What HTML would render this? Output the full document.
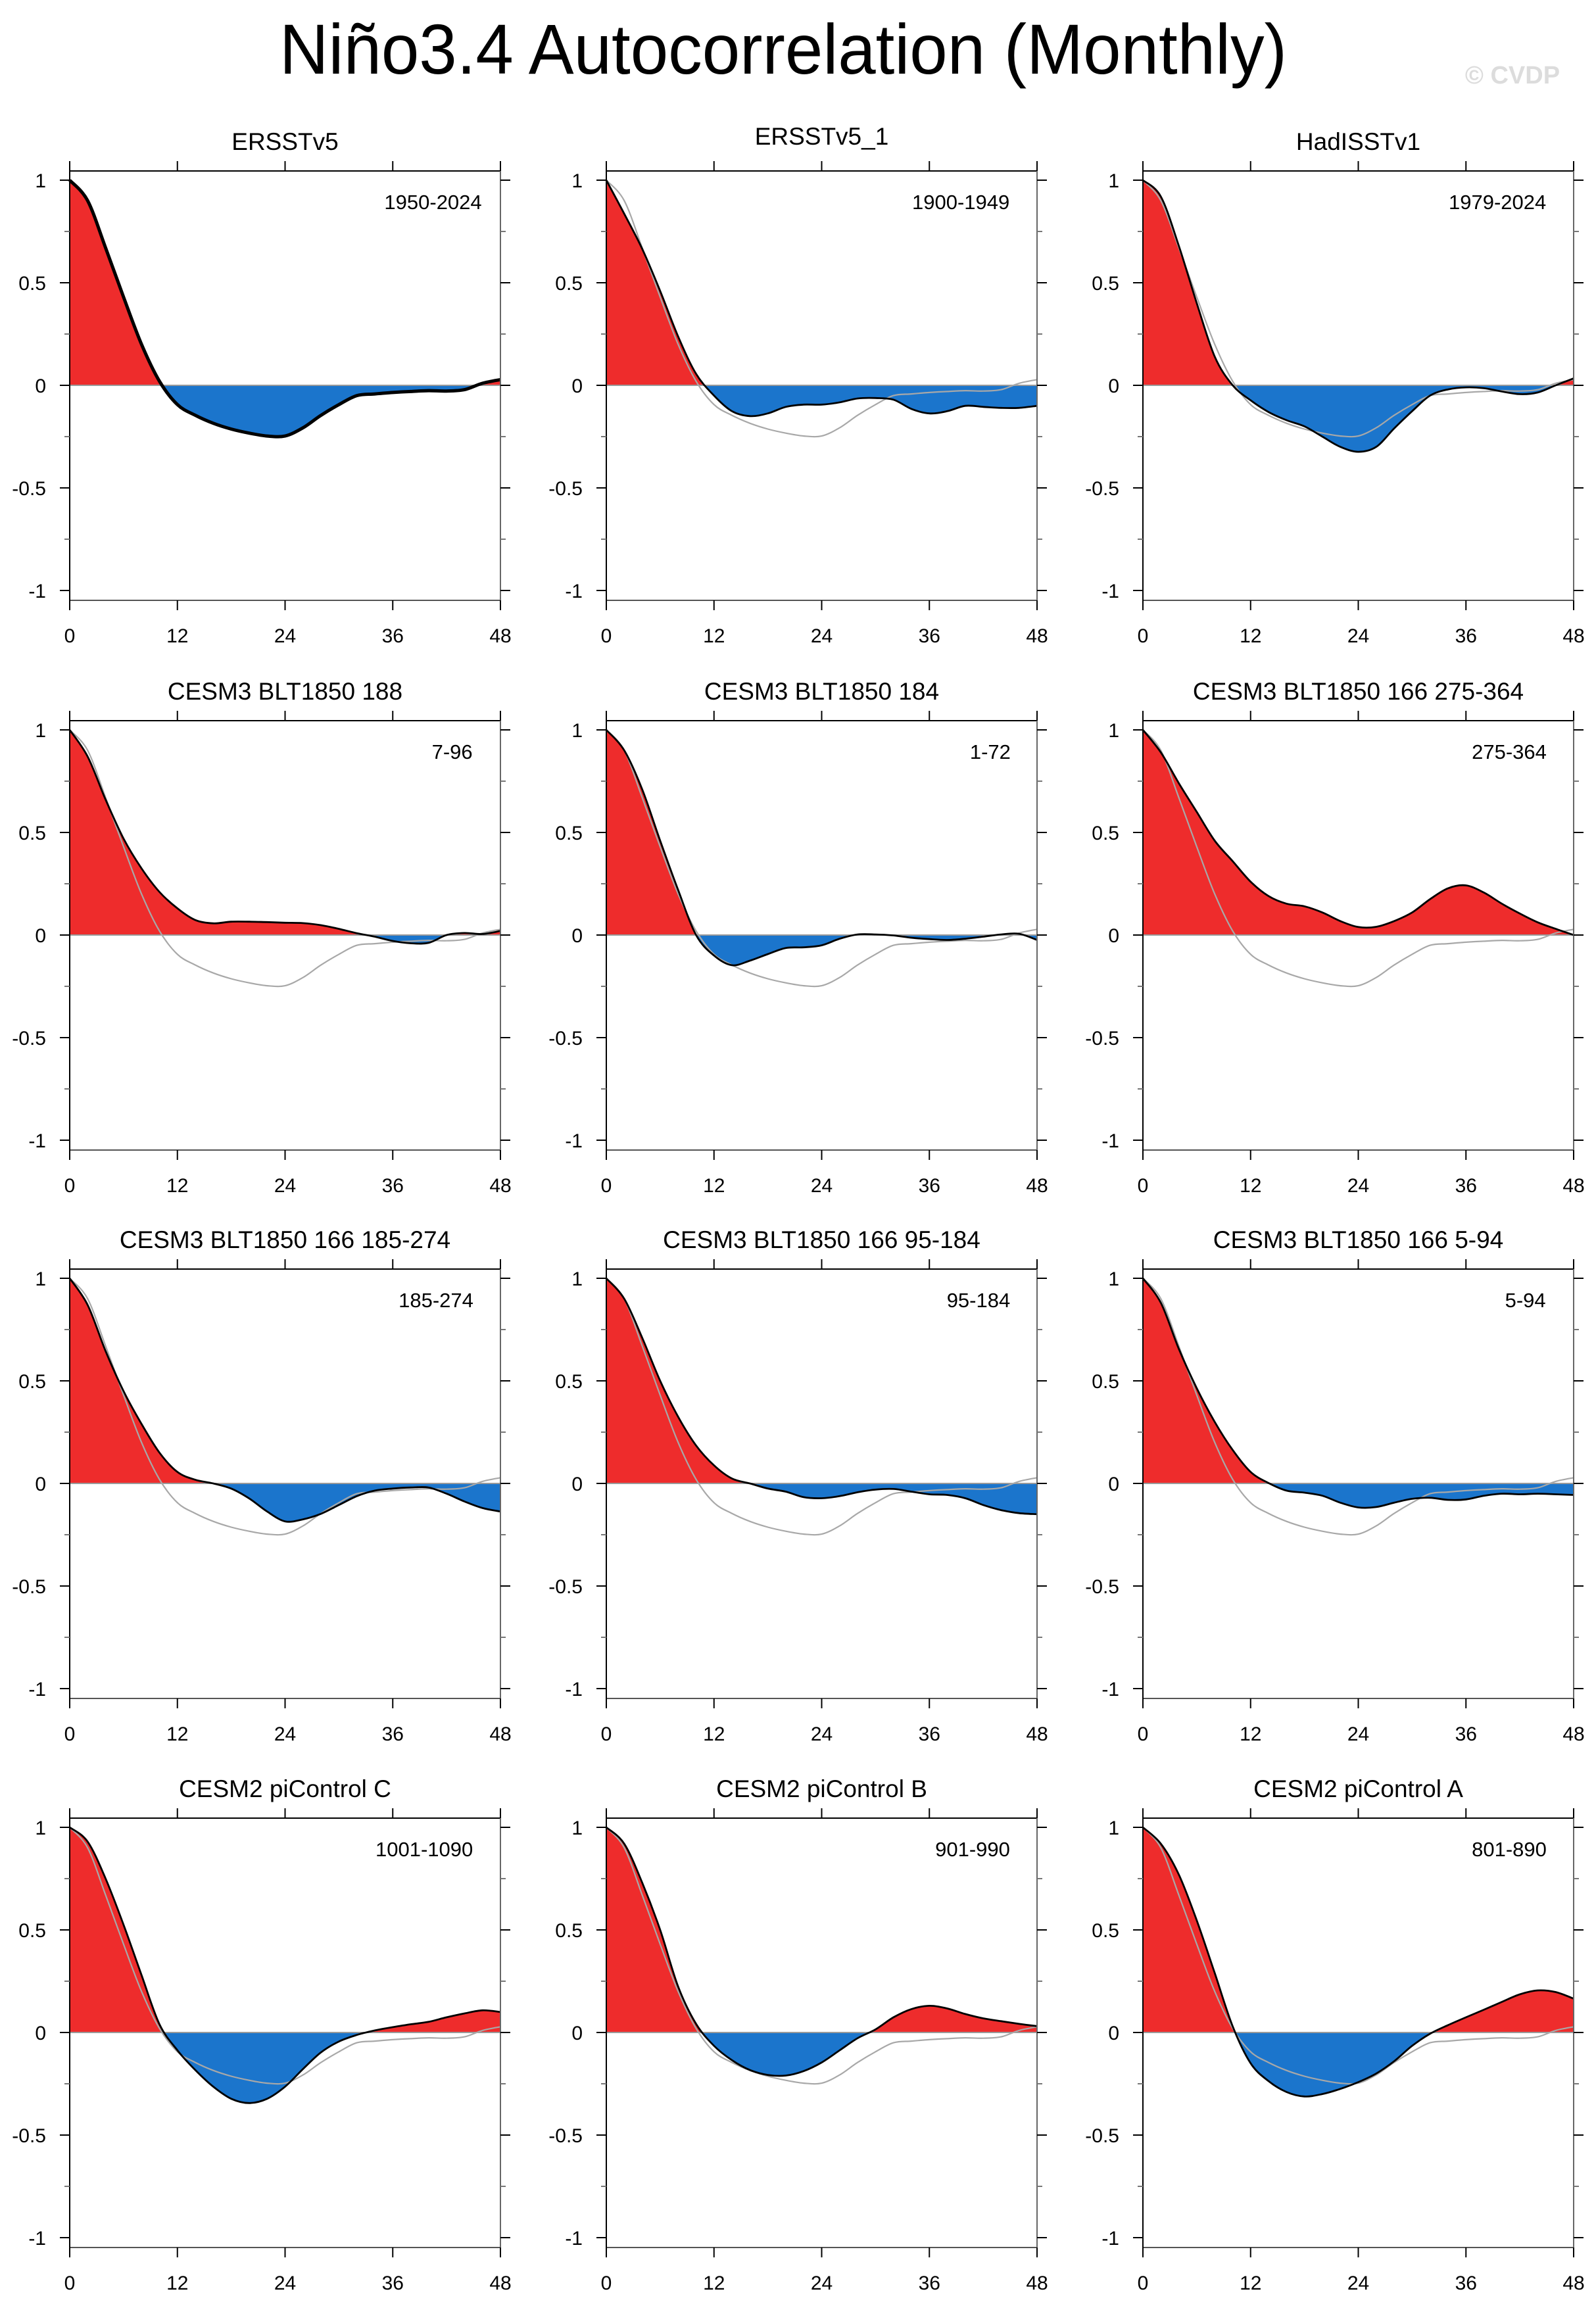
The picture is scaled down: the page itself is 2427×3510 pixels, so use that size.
<!DOCTYPE html>
<html>
<head>
<meta charset="utf-8">
<style>
  html,body{margin:0;padding:0;background:#fff;}
  svg{display:block;font-family:"Liberation Sans",Arial,sans-serif;}
</style>
</head>
<body>
<svg id="fig" width="2427" height="3510" viewBox="0 0 2427 3510" xmlns="http://www.w3.org/2000/svg">
  <text x="425" y="112" font-size="108" textLength="1532" lengthAdjust="spacingAndGlyphs" fill="#000">Niño3.4 Autocorrelation (Monthly)</text>
  <text x="2300" y="127" font-size="38" font-weight="bold" text-anchor="middle" fill="#dcdcdc">© CVDP</text>
</svg>
<script>
const lags = [0,2,4,6,8,10,12,14,16,18,20,22,24,26,28,30,32,34,36,38,40,42,44,46,48];
const xTicks = [0,12,24,36,48];
const yTicks = [1,0.5,0,-0.5,-1];
const yMinorTicks = [0.75,0.25,-0.25,-0.75];
const yTickLabels = ["1","0.5","0","-0.5","-1"];
const titles = ["ERSSTv5","ERSSTv5_1","HadISSTv1","CESM3 BLT1850 188","CESM3 BLT1850 184","CESM3 BLT1850 166 275-364","CESM3 BLT1850 166 185-274","CESM3 BLT1850 166 95-184","CESM3 BLT1850 166 5-94","CESM2 piControl C","CESM2 piControl B","CESM2 piControl A"];
const ranges = ["1950-2024","1900-1949","1979-2024","7-96","1-72","275-364","185-274","95-184","5-94","1001-1090","901-990","801-890"];
const obsValues = [1,0.90,0.67,0.43,0.20,0.02,-0.094,-0.146,-0.185,-0.213,-0.233,-0.247,-0.247,-0.207,-0.146,-0.094,-0.05,-0.042,-0.035,-0.03,-0.026,-0.028,-0.021,0.01,0.028];
const s2 = [1,0.836,0.665,0.46,0.238,0.056,-0.05,-0.126,-0.15,-0.137,-0.105,-0.094,-0.094,-0.083,-0.064,-0.062,-0.07,-0.115,-0.137,-0.126,-0.1,-0.105,-0.11,-0.11,-0.1];
const s3 = [1,0.92,0.68,0.40,0.14,0.0,-0.073,-0.13,-0.17,-0.2,-0.25,-0.30,-0.324,-0.3,-0.21,-0.126,-0.05,-0.02,-0.01,-0.014,-0.03,-0.043,-0.035,0.0,0.034];
const s4 = [1,0.87,0.66,0.47,0.325,0.21,0.13,0.073,0.057,0.065,0.065,0.063,0.06,0.058,0.048,0.03,0.009,-0.008,-0.029,-0.04,-0.038,0.0,0.01,0.005,0.02];
const s5 = [1,0.90,0.71,0.46,0.22,0.0,-0.10,-0.147,-0.125,-0.093,-0.063,-0.06,-0.05,-0.018,0.003,0.003,-0.002,-0.013,-0.02,-0.024,-0.018,-0.008,0.003,0.006,-0.024];
const s6 = [1,0.89,0.74,0.60,0.46,0.36,0.26,0.19,0.153,0.14,0.11,0.068,0.039,0.04,0.068,0.11,0.175,0.228,0.242,0.207,0.153,0.105,0.062,0.03,0.0];
const s7 = [1,0.87,0.645,0.45,0.29,0.15,0.056,0.018,0.0,-0.025,-0.073,-0.137,-0.185,-0.175,-0.148,-0.105,-0.062,-0.035,-0.025,-0.02,-0.02,-0.05,-0.088,-0.12,-0.137];
const s8 = [1,0.90,0.71,0.50,0.325,0.185,0.088,0.024,0.0,-0.025,-0.04,-0.067,-0.072,-0.062,-0.043,-0.03,-0.027,-0.04,-0.053,-0.056,-0.072,-0.105,-0.13,-0.145,-0.15];
const s9 = [1,0.88,0.656,0.464,0.30,0.163,0.056,0.002,-0.035,-0.045,-0.06,-0.094,-0.117,-0.115,-0.094,-0.075,-0.07,-0.08,-0.078,-0.06,-0.05,-0.053,-0.05,-0.053,-0.056];
const s10 = [1,0.93,0.75,0.525,0.28,0.04,-0.087,-0.183,-0.264,-0.323,-0.344,-0.323,-0.264,-0.178,-0.097,-0.044,-0.012,0.01,0.026,0.04,0.052,0.074,0.093,0.108,0.10];
const s11 = [1,0.92,0.73,0.50,0.224,0.042,-0.065,-0.135,-0.183,-0.207,-0.21,-0.188,-0.146,-0.087,-0.028,0.015,0.074,0.114,0.13,0.117,0.09,0.069,0.055,0.042,0.031];
const s12 = [1,0.92,0.77,0.546,0.29,0.03,-0.15,-0.237,-0.29,-0.312,-0.30,-0.275,-0.242,-0.2,-0.14,-0.065,-0.006,0.036,0.074,0.111,0.149,0.186,0.205,0.197,0.165];
const series = [obsValues,s2,s3,s4,s5,s6,s7,s8,s9,s10,s11,s12];
const rangeOffsets = [247,241,241,260,261,249,249,253,260,241,249,249];

const NS = "http://www.w3.org/2000/svg";
const svg = document.getElementById('fig');
const colX = [106,922,1738];
const rowY = [274,1110,1944,2779];
const W = 655, UNIT = 312;

function mk(tag, attrs, parent){
  const e = document.createElementNS(NS, tag);
  for (const k in attrs) e.setAttribute(k, attrs[k]);
  parent.appendChild(e);
  return e;
}
function smoothPath(pts){
  let d = "M" + pts[0][0].toFixed(1) + "," + pts[0][1].toFixed(1);
  for (let i = 0; i < pts.length - 1; i++){
    const p0 = pts[Math.max(0,i-1)], p1 = pts[i], p2 = pts[i+1], p3 = pts[Math.min(pts.length-1,i+2)];
    const c1x = p1[0] + (p2[0]-p0[0])/6, c1y = p1[1] + (p2[1]-p0[1])/6;
    const c2x = p2[0] - (p3[0]-p1[0])/6, c2y = p2[1] - (p3[1]-p1[1])/6;
    d += " C" + c1x.toFixed(1)+","+c1y.toFixed(1)+" "+c2x.toFixed(1)+","+c2y.toFixed(1)+" "+p2[0].toFixed(1)+","+p2[1].toFixed(1);
  }
  return d;
}

for (let p = 0; p < 12; p++){
  const x0 = colX[p % 3], y1 = rowY[Math.floor(p / 3)];
  const xs = v => x0 + v / 48 * W;
  const ys = v => y1 + (1 - v) * UNIT;
  const yZero = ys(0), top = y1 - 14, bot = ys(-1) + 15;

  const g = mk('g', {}, svg);
  
  

  const t = mk('text', {x: x0 + W/2, y: y1 - 46 - (p === 1 ? 8 : 0), 'font-size': 37, 'text-anchor': 'middle', fill: '#000'}, g);
  t.textContent = titles[p];
  
  

  const cid = 'c' + p;
  const defs = mk('defs', {}, g);
  const cpA = mk('clipPath', {id: cid + 'a'}, defs);
  mk('rect', {x: x0, y: top, width: W, height: yZero - top}, cpA);
  const cpB = mk('clipPath', {id: cid + 'b'}, defs);
  mk('rect', {x: x0, y: yZero, width: W, height: bot - yZero}, cpB);

  const pts = lags.map((l, i) => [xs(l), ys(series[p][i])]);
  const curve = smoothPath(pts);
  const area = curve + " L" + xs(48) + "," + yZero + " L" + xs(0) + "," + yZero + " Z";
  const pos = mk('path', {d: area, fill: '#ee2c2c', 'clip-path': 'url(#' + cid + 'a)'}, g);
  
  
  const neg = mk('path', {d: area, fill: '#1b75cc', 'clip-path': 'url(#' + cid + 'b)'}, g);
  
  

  const zl = mk('line', {x1: x0, x2: x0 + W, y1: yZero, y2: yZero, stroke: '#9a9a9a', 'stroke-width': 2}, g);
  
  

  if (p > 0){
    const opts = lags.map((l, i) => [xs(l), ys(obsValues[i])]);
    const ol = mk('path', {d: smoothPath(opts), fill: 'none', stroke: '#a8a8a8', 'stroke-width': 2.2}, g);
    
    
  }
  const cl = mk('path', {d: curve, fill: 'none', stroke: '#000', 'stroke-width': p === 0 ? 5 : 2.8, 'stroke-linejoin': 'round'}, g);
  
  

  mk('line', {x1: x0, x2: x0 + W, y1: top, y2: top, stroke: '#000', 'stroke-width': 2}, g);
  mk('line', {x1: x0, x2: x0 + W, y1: bot, y2: bot, stroke: '#555', 'stroke-width': 2}, g);
  mk('line', {x1: x0, x2: x0, y1: top - 15, y2: bot + 15, stroke: '#000', 'stroke-width': 2}, g);
  mk('line', {x1: x0 + W, x2: x0 + W, y1: top - 15, y2: bot + 15, stroke: '#666', 'stroke-width': 2}, g);

  xTicks.forEach(v => {
    const x = xs(v);
    mk('line', {x1: x, x2: x, y1: top - 15, y2: top, stroke: '#000', 'stroke-width': 2}, g);
    mk('line', {x1: x, x2: x, y1: bot, y2: bot + 15, stroke: '#000', 'stroke-width': 2}, g);
    const lt = mk('text', {x: x, y: y1 + 703, 'font-size': 30, 'text-anchor': 'middle', fill: '#000'}, g);
    lt.textContent = String(v);
    
    
  });
  yTicks.forEach((v, i) => {
    const y = ys(v);
    mk('line', {x1: x0 - 15, x2: x0, y1: y, y2: y, stroke: '#000', 'stroke-width': 2}, g);
    mk('line', {x1: x0 + W, x2: x0 + W + 15, y1: y, y2: y, stroke: '#000', 'stroke-width': 2}, g);
    const lt = mk('text', {x: x0 - 36, y: y + 11, 'font-size': 30, 'text-anchor': 'end', fill: '#000'}, g);
    lt.textContent = yTickLabels[i];
    
    
  });
  yMinorTicks.forEach(v => {
    const y = ys(v);
    mk('line', {x1: x0 - 8, x2: x0, y1: y, y2: y, stroke: '#777', 'stroke-width': 2}, g);
    mk('line', {x1: x0 + W, x2: x0 + W + 8, y1: y, y2: y, stroke: '#777', 'stroke-width': 2}, g);
  });

  const rt = mk('text', {x: x0 + rangeOffsets[p] * 2.237, y: y1 + 44, 'font-size': 31, 'text-anchor': 'middle', fill: '#000'}, g);
  rt.textContent = ranges[p];
  
  
}
</script>
</body>
</html>
